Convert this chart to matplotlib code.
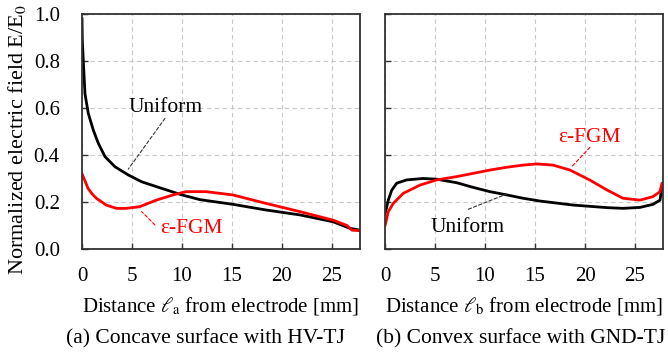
import matplotlib
matplotlib.use("Agg")
import matplotlib.pyplot as plt
import numpy as np

plt.rcParams['font.family'] = ['Liberation Serif', 'DejaVu Serif']
plt.rcParams['mathtext.fontset'] = 'stix'

# Panel (a): concave surface with HV-TJ
xa_uni = [0.0, 0.03, 0.13, 0.3, 0.63, 1.13, 1.63, 2.3, 3.3, 4.63, 5.97, 7.97, 10.0, 11.8, 15.1, 18.4, 21.8, 25.1, 26.8, 27.8]
ya_uni = [0.98, 0.89, 0.80, 0.66, 0.577, 0.506, 0.45, 0.393, 0.35, 0.315, 0.286, 0.258, 0.23, 0.21, 0.19, 0.166, 0.145, 0.116, 0.088, 0.08]
xa_fgm = [0.0, 0.3, 0.6, 1.0, 1.43, 2.43, 3.43, 4.43, 5.77, 7.43, 9.1, 10.4, 12.4, 15.1, 18.4, 21.8, 25.1, 26.5, 27.0, 27.8]
ya_fgm = [0.32, 0.29, 0.258, 0.235, 0.216, 0.187, 0.173, 0.173, 0.18, 0.208, 0.23, 0.244, 0.244, 0.23, 0.194, 0.159, 0.123, 0.1, 0.08, 0.078]

# Panel (b): convex surface with GND-TJ
xb_uni = [0.0, 0.1, 0.33, 0.67, 1.17, 2.17, 3.8, 5.17, 7.17, 8.83, 10.5, 12.2, 13.8, 15.5, 18.8, 22.2, 23.8, 25.5, 26.8, 27.5, 27.7, 27.8]
yb_uni = [0.15, 0.166, 0.208, 0.25, 0.28, 0.294, 0.30, 0.297, 0.282, 0.262, 0.244, 0.23, 0.216, 0.204, 0.187, 0.176, 0.173, 0.177, 0.19, 0.208, 0.265, 0.27]
xb_fgm = [0.0, 0.1, 0.33, 0.83, 1.83, 3.5, 5.17, 7.17, 8.83, 10.5, 12.2, 13.8, 15.2, 16.8, 18.5, 20.5, 22.2, 23.8, 25.5, 26.8, 27.5, 27.7, 27.8]
yb_fgm = [0.1, 0.116, 0.159, 0.194, 0.237, 0.272, 0.294, 0.308, 0.322, 0.336, 0.348, 0.357, 0.362, 0.357, 0.336, 0.293, 0.251, 0.216, 0.208, 0.223, 0.244, 0.28, 0.28]

xticks = [0, 5, 10, 15, 20, 25]
yticks = [0.0, 0.2, 0.4, 0.6, 0.8, 1.0]

fig = plt.figure(figsize=(6.68, 3.56), dpi=100)
axA = fig.add_axes([82/668, 107/356, 278/668, 235/356])
axB = fig.add_axes([385/668, 107/356, 278/668, 235/356])

for ax in (axA, axB):
    ax.set_xlim(0, 27.8)
    ax.set_ylim(0, 1.0)
    ax.set_xticks(xticks)
    ax.set_yticks(yticks)
    ax.grid(True, color='#c8c8c8', linestyle=(0, (4, 3)), linewidth=0.8)
    ax.set_axisbelow(True)
    for s in ax.spines.values():
        s.set_color('#333333')
        s.set_linewidth(1.3)
    ax.tick_params(direction='in', length=4, width=1, labelsize=15, color='#333333')
    ax.tick_params(axis='x', pad=13)
    ax.tick_params(axis='y', pad=16)

axA.set_yticklabels([f"{v:.1f}" for v in yticks])
axB.set_yticklabels([])

axA.plot(xa_uni, ya_uni, color='black', lw=2)
axA.plot(xa_fgm, ya_fgm, color='#ff0000', lw=2)
axB.plot(xb_uni, yb_uni, color='black', lw=2)
axB.plot(xb_fgm, yb_fgm, color='#ff0000', lw=2)

fs_ann = 15.5
def label(ax, text, pos, start, end, color, lcolor):
    ax.text(pos[0], pos[1], text, ha='center', va='baseline', fontsize=fs_ann, color=color)
    ax.annotate('', xy=end, xytext=start,
                arrowprops=dict(arrowstyle='-', linestyle=(0, (3, 2)), lw=0.8,
                                color=lcolor, shrinkA=0, shrinkB=0))

label(axA, 'Uniform', (8.4, 0.583), (8.3, 0.556), (4.63, 0.34), 'black', '#333333')
label(axA, 'ε-FGM', (10.95, 0.068), (7.3, 0.102), (5.97, 0.159), '#ff0000', '#ff0000')
label(axB, 'ε-FGM', (20.4, 0.455), (20.5, 0.433), (18.67, 0.35), '#ff0000', '#ff0000')
label(axB, 'Uniform', (8.3, 0.072), (8.33, 0.169), (12.17, 0.234), 'black', '#333333')

axA.set_ylabel('Normalized electric field E/E$_0$', fontsize=16)
axA.yaxis.set_label_coords((17 - 82) / 278, (249 - 139) / 235)
axA.yaxis.label.set_va('center')
axA.set_xlabel(r'Distance $\ell_{\rm a}$ from electrode [mm]', fontsize=15)
axB.set_xlabel(r'Distance $\ell_{\rm b}$ from electrode [mm]', fontsize=15)
for ax in (axA, axB):
    ax.xaxis.set_label_coords(0.5, (249 - 306) / 235)
    ax.xaxis.label.set_va('center')

fig.text(205/668, 1 - 339/356, '(a) Concave surface with HV-TJ', ha='center', va='center', fontsize=15.5)
fig.text(521/668, 1 - 339/356, '(b) Convex surface with GND-TJ', ha='center', va='center', fontsize=15.5)

fig.savefig('out.png', dpi=100)
